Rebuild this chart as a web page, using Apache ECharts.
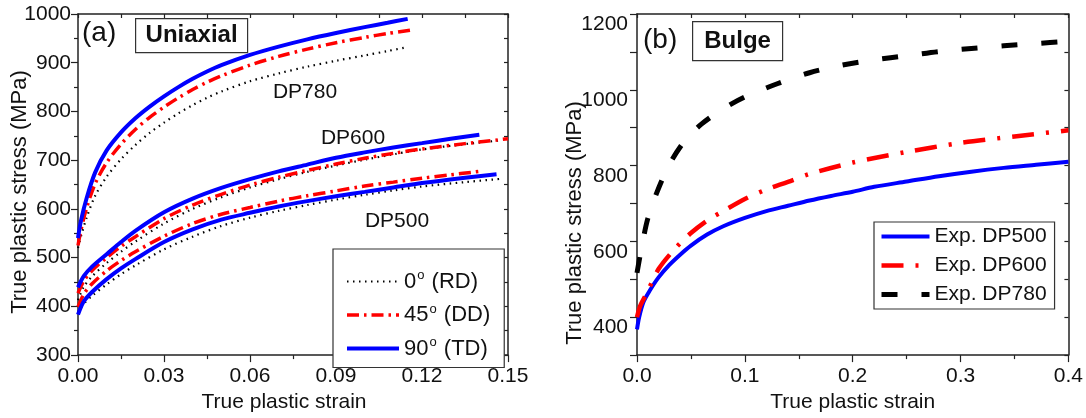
<!DOCTYPE html>
<html>
<head>
<meta charset="utf-8">
<script src="https://cdn.jsdelivr.net/npm/echarts@6/dist/echarts.min.js"></script>
<style>
  html, body { margin: 0; padding: 0; background: #fff; }
  #chart { width: 1086px; height: 418px; }
</style>
</head>
<body>
<div id="chart"></div>
<script>
// ---- (a) uniaxial tension: [true plastic strain, true plastic stress (MPa)] ----
const dp780RD = [[0,520],[0.001,543],[0.003,582],[0.006,627],[0.01,666],[0.015,702],[0.02,731],[0.025,756],[0.03,777],[0.035,796],[0.04,813],[0.045,828],[0.05,841],[0.06,862],[0.07,878],[0.08,892],[0.09,904],[0.1,915],[0.108,924],[0.114,931]];
const dp780DD = [[0,525],[0.001,556],[0.003,602],[0.006,652],[0.01,695],[0.015,733],[0.02,763],[0.025,788],[0.03,809],[0.035,828],[0.04,845],[0.045,860],[0.05,873],[0.06,895],[0.07,913],[0.08,928],[0.09,941],[0.1,952],[0.108,960],[0.116,967]];
const dp780TD = [[0,540],[0.001,575],[0.003,622],[0.006,675],[0.01,720],[0.015,757],[0.02,786],[0.025,810],[0.03,831],[0.035,850],[0.04,867],[0.045,882],[0.05,895],[0.06,916],[0.07,933],[0.08,948],[0.09,961],[0.1,973],[0.108,982],[0.115,990]];

const dp600RD = [[0,413],[0.002,440],[0.005,462],[0.01,489],[0.015,512],[0.02,533],[0.03,570],[0.04,600],[0.05,624],[0.06,644],[0.07,661],[0.08,676],[0.09,689],[0.1,701],[0.11,712],[0.12,722],[0.135,733],[0.148,741]];
const dp600DD = [[0,427],[0.002,452],[0.005,474],[0.01,500],[0.015,523],[0.02,543],[0.03,580],[0.04,608],[0.05,630],[0.06,649],[0.07,665],[0.08,679],[0.09,692],[0.1,704],[0.11,714],[0.12,723],[0.135,734],[0.15,744]];
const dp600TD = [[0,439],[0.002,462],[0.005,482],[0.01,507],[0.015,532],[0.02,555],[0.03,593],[0.04,621],[0.05,643],[0.06,661],[0.07,677],[0.08,691],[0.09,705],[0.1,716],[0.11,726],[0.12,735],[0.13,744],[0.14,752]];

const dp500RD = [[0,388],[0.002,405],[0.005,422],[0.01,445],[0.015,466],[0.02,484],[0.03,517],[0.04,543],[0.05,565],[0.06,582],[0.07,596],[0.08,608],[0.09,619],[0.1,629],[0.11,638],[0.12,646],[0.135,655],[0.148,662]];
const dp500DD = [[0,399],[0.002,425],[0.005,447],[0.01,473],[0.015,494],[0.02,512],[0.03,544],[0.04,570],[0.05,589],[0.06,603],[0.07,616],[0.08,627],[0.09,637],[0.1,647],[0.11,655],[0.12,663],[0.13,670],[0.14,677]];
const dp500TD = [[0,383],[0.002,410],[0.005,430],[0.01,456],[0.015,478],[0.02,497],[0.03,532],[0.04,558],[0.05,578],[0.06,592],[0.07,605],[0.08,616],[0.09,626],[0.1,635],[0.11,644],[0.12,653],[0.135,664],[0.146,671]];

// ---- (b) bulge test ----
const bulgeDP500 = [[0,368],[0.002,400],[0.006,440],[0.012,471],[0.02,505],[0.03,538],[0.04,565],[0.05,589],[0.065,618],[0.08,640],[0.1,662],[0.12,680],[0.14,694],[0.16,708],[0.18,720],[0.2,731],[0.22,744],[0.25,758],[0.28,772],[0.31,784],[0.34,794],[0.37,802],[0.4,810]];
const bulgeDP600 = [[0,400],[0.003,430],[0.009,463],[0.02,527],[0.035,580],[0.05,622],[0.065,655],[0.08,680],[0.1,712],[0.12,737],[0.14,757],[0.16,778],[0.2,808],[0.25,836],[0.3,860],[0.35,877],[0.4,893]];
const bulgeDP780 = [[0,517],[0.005,595],[0.01,660],[0.018,726],[0.03,803],[0.045,868],[0.06,910],[0.08,950],[0.1,981],[0.13,1016],[0.16,1045],[0.19,1065],[0.22,1079],[0.25,1090],[0.28,1101],[0.31,1109],[0.34,1116],[0.37,1122],[0.4,1128]];

// legend entries and captions
const uniaxialNames = ['0° (RD)', '45° (DD)', '90° (TD)'];
const bulgeNames = ['Exp. DP500', 'Exp. DP600', 'Exp. DP780'];
const gradeLabels = ['DP780', 'DP600', 'DP500'];
const stressTitle = 'True plastic stress (MPa)';
const strainTitle = 'True plastic strain';

const FONT = '"Liberation Sans", Arial, sans-serif';
const INK = '#111';
const AXIS = '#222';
const BLUE = '#0000ff', RED = '#ff0000', BLACK = '#000000';

const chart = echarts.init(document.getElementById('chart'), null, { renderer: 'canvas' });

function mainX(grid, max, interval, digits, nameStyle) {
  return {
    gridIndex: grid, type: 'value', position: 'bottom', min: 0, max: max, interval: interval,
    name: strainTitle, nameLocation: 'middle', nameGap: 28,
    nameTextStyle: Object.assign({ fontFamily: FONT, fontSize: 21, color: INK }, nameStyle || {}),
    axisLine: { show: true, onZero: false, lineStyle: { color: AXIS, width: 1.5 } },
    axisTick: { show: true, inside: false, length: 7, lineStyle: { color: AXIS, width: 1.2 } },
    minorTick: { show: true, splitNumber: 2, length: 4, lineStyle: { color: AXIS, width: 1.2 } },
    splitLine: { show: false },
    axisLabel: { fontFamily: FONT, fontSize: 21, color: INK, margin: 11, formatter: v => v.toFixed(digits) }
  };
}
function mirrorX(grid, max, interval) {
  return {
    gridIndex: grid, type: 'value', position: 'top', min: 0, max: max, interval: interval,
    axisLine: { show: true, onZero: false, lineStyle: { color: AXIS, width: 1.5 } },
    axisTick: { show: true, inside: true, length: 4, lineStyle: { color: AXIS, width: 1.2 } },
    axisLabel: { show: false }, splitLine: { show: false }
  };
}
function mirrorY(grid, min, max, interval) {
  return {
    gridIndex: grid, type: 'value', position: 'right', min: min, max: max, interval: interval,
    axisLine: { show: true, onZero: false, lineStyle: { color: AXIS, width: 1.5 } },
    axisTick: { show: true, inside: true, length: 4, lineStyle: { color: AXIS, width: 1.2 } },
    axisLabel: { show: false }, splitLine: { show: false }
  };
}

function curve(name, data, xi, yi, color, width, dash) {
  return {
    name: name, type: 'line', xAxisIndex: xi, yAxisIndex: yi, data: data,
    symbol: 'none', showSymbol: false, smooth: 0.3,
    lineStyle: { color: color, width: width, type: dash || 'solid', cap: 'butt' },
    itemStyle: { color: color }, z: 3, animation: false
  };
}

// rotated stress title beside each panel's left axis
function stressLabel(cx, cy) {
  return {
    type: 'text', x: cx, y: cy, rotation: Math.PI / 2,
    style: { text: stressTitle, font: '22px ' + FONT, fill: INK, align: 'center', verticalAlign: 'middle' }
  };
}

const rdDash = [1.5, 4.5];
const ddDash = [12, 5, 2.5, 5];

const option = {
  animation: false,
  backgroundColor: '#ffffff',
  grid: [
    { left: 78, top: 14, width: 430, height: 353 },
    { left: 637, top: 14, width: 438, height: 353 }
  ],
  xAxis: [
    mainX(0, 0.15, 0.03, 2, { padding: [0, 18, 0, 0] }),
    mirrorX(0, 0.15, 0.015),
    mainX(1, 0.4, 0.1, 1),
    mirrorX(1, 0.4, 0.05)
  ],
  yAxis: [
    {
      gridIndex: 0, type: 'value', position: 'left', min: 300, max: 1000, interval: 100,
      axisLine: { show: true, onZero: false, lineStyle: { color: AXIS, width: 1.5 } },
      axisTick: { show: true, inside: false, length: 7, lineStyle: { color: AXIS, width: 1.2 } },
      minorTick: { show: true, splitNumber: 2, length: 4, lineStyle: { color: AXIS, width: 1.2 } },
      splitLine: { show: false },
      axisLabel: { fontFamily: FONT, fontSize: 21, color: INK, margin: 7, formatter: v => String(v) }
    },
    mirrorY(0, 300, 1000, 50),
    {
      gridIndex: 1, type: 'value', position: 'left', min: 300, max: 1200, interval: 100,
      axisLine: { show: true, onZero: false, lineStyle: { color: AXIS, width: 1.5 } },
      axisTick: { show: true, inside: false, length: 7, lineStyle: { color: AXIS, width: 1.2 } },
      splitLine: { show: false },
      axisLabel: {
        fontFamily: FONT, fontSize: 21, color: INK, margin: 9, verticalAlign: 'top',
        formatter: v => (v % 200 === 0 ? String(v) : '')
      }
    },
    mirrorY(1, 300, 1200, 100)
  ],
  legend: [
    {
      data: uniaxialNames, orient: 'vertical', left: 333, top: 249,
      itemWidth: 52, itemHeight: 22, itemGap: 10, padding: [20, 14, 8, 12],
      borderColor: '#333', borderWidth: 1.2, backgroundColor: '#fff', selectedMode: false,
      itemStyle: { opacity: 0 },
      lineStyle: { width: 'inherit', type: 'inherit' },
      textStyle: {
        fontFamily: FONT, fontSize: 22, color: INK,
        rich: {
          n: { fontFamily: FONT, fontSize: 22, color: INK },
          s: { fontFamily: FONT, fontSize: 13, color: INK, padding: [0, 1, 12, 1] }
        }
      },
      formatter: function (name) {
        const i = name.indexOf('°');
        return '{n|' + name.slice(0, i) + '}{s|o}{n|' + name.slice(i + 1) + '}';
      }
    },
    {
      data: bulgeNames, orient: 'vertical', left: 874, top: 222,
      itemWidth: 48, itemHeight: 18, itemGap: 8, padding: [4, 8, 4, 5],
      borderColor: '#333', borderWidth: 1.2, backgroundColor: '#fff', selectedMode: false,
      itemStyle: { opacity: 0 },
      lineStyle: { width: 'inherit', type: 'inherit' },
      textStyle: { fontFamily: FONT, fontSize: 21, color: INK }
    }
  ],
  graphic: [
    stressLabel(20, 192),
    stressLabel(575, 223),
    { type: 'text', left: 82, top: 19, style: { text: '(a)', font: '28px ' + FONT, fill: INK } },
    {
      type: 'group', left: 135, top: 18, children: [
        { type: 'rect', shape: { x: 0, y: 0, width: 112, height: 34 }, style: { fill: '#fff', stroke: '#333', lineWidth: 1.2 } },
        { type: 'text', x: 56, y: 17, style: { text: 'Uniaxial', font: 'bold 24px ' + FONT, fill: INK, align: 'center', verticalAlign: 'middle' } }
      ]
    },
    { type: 'text', left: 643, top: 26, style: { text: '(b)', font: '28px ' + FONT, fill: INK } },
    {
      type: 'group', left: 692, top: 21, children: [
        { type: 'rect', shape: { x: 0, y: 0, width: 90, height: 39 }, style: { fill: '#fff', stroke: '#333', lineWidth: 1.2 } },
        { type: 'text', x: 45, y: 19.5, style: { text: 'Bulge', font: 'bold 24px ' + FONT, fill: INK, align: 'center', verticalAlign: 'middle' } }
      ]
    },
    { type: 'text', x: 305, y: 92, style: { text: gradeLabels[0], font: '21px ' + FONT, fill: INK, align: 'center', verticalAlign: 'middle' } },
    { type: 'text', x: 353, y: 138, style: { text: gradeLabels[1], font: '21px ' + FONT, fill: INK, align: 'center', verticalAlign: 'middle' } },
    { type: 'text', x: 397, y: 221, style: { text: gradeLabels[2], font: '21px ' + FONT, fill: INK, align: 'center', verticalAlign: 'middle' } }
  ],
  series: [
    curve(uniaxialNames[0], dp780RD, 0, 0, BLACK, 2.2, rdDash),
    curve(uniaxialNames[0], dp600RD, 0, 0, BLACK, 2.2, rdDash),
    curve(uniaxialNames[0], dp500RD, 0, 0, BLACK, 2.2, rdDash),
    curve(uniaxialNames[1], dp780DD, 0, 0, RED, 3.5, ddDash),
    curve(uniaxialNames[1], dp600DD, 0, 0, RED, 3.5, ddDash),
    curve(uniaxialNames[1], dp500DD, 0, 0, RED, 3.5, ddDash),
    curve(uniaxialNames[2], dp780TD, 0, 0, BLUE, 4, 'solid'),
    curve(uniaxialNames[2], dp600TD, 0, 0, BLUE, 4, 'solid'),
    curve(uniaxialNames[2], dp500TD, 0, 0, BLUE, 4, 'solid'),
    curve(bulgeNames[0], bulgeDP500, 2, 2, BLUE, 4, 'solid'),
    curve(bulgeNames[1], bulgeDP600, 2, 2, RED, 4.5, [22, 12, 3, 12]),
    curve(bulgeNames[2], bulgeDP780, 2, 2, BLACK, 5, [16, 24])
  ]
};

chart.setOption(option);
</script>
</body>
</html>
